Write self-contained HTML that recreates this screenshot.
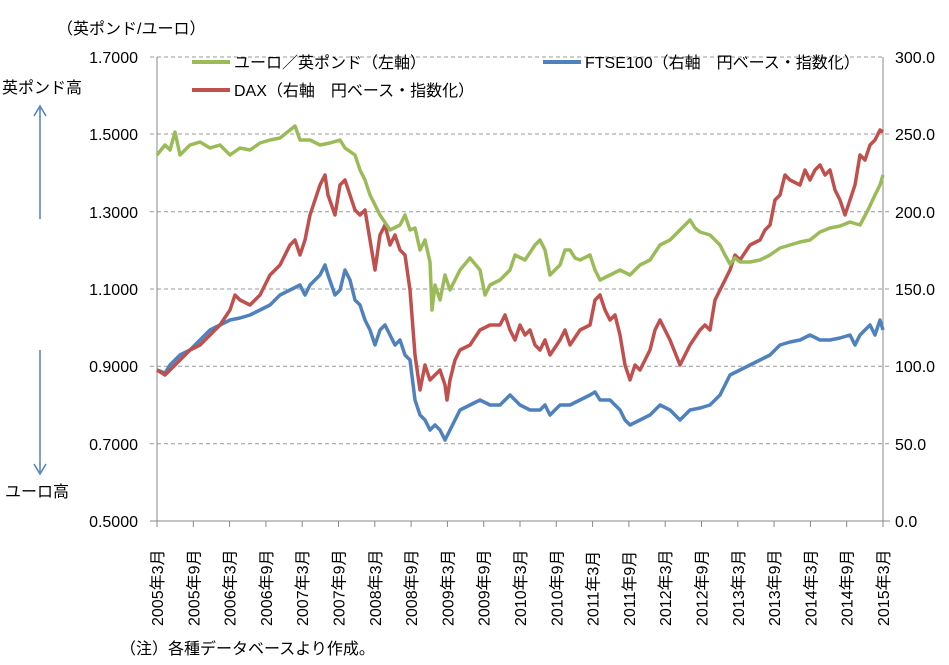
<!DOCTYPE html>
<html><head><meta charset="utf-8"><style>
body{margin:0;background:#fff;}
svg text{font-family:"Liberation Sans","Noto Sans CJK JP",sans-serif;font-size:16px;fill:#000;}
</style></head><body>
<svg width="949" height="660" viewBox="0 0 949 660" xmlns="http://www.w3.org/2000/svg">
<g stroke="#999" stroke-width="1" stroke-dasharray="4,3">
<line x1="150" y1="57" x2="883" y2="57"/><line x1="150" y1="134" x2="890" y2="134"/>
<line x1="150" y1="211.7" x2="890" y2="211.7"/><line x1="150" y1="289" x2="890" y2="289"/>
<line x1="150" y1="366.3" x2="890" y2="366.3"/><line x1="150" y1="443.7" x2="890" y2="443.7"/>
</g>
<g stroke="#888" stroke-width="1">
<line x1="157" y1="57" x2="157" y2="521"/><line x1="883" y1="57" x2="883" y2="521"/>
<line x1="150" y1="521" x2="890" y2="521"/>
</g>
<g id="ticks" stroke="#888"></g>
<g text-anchor="end">
<text x="138" y="63">1.7000</text><text x="138" y="140">1.5000</text><text x="138" y="218">1.3000</text>
<text x="138" y="295">1.1000</text><text x="138" y="372">0.9000</text><text x="138" y="450">0.7000</text><text x="138" y="527">0.5000</text>
</g>
<g>
<text x="895" y="63">300.0</text><text x="895" y="140">250.0</text><text x="895" y="218">200.0</text>
<text x="895" y="295">150.0</text><text x="895" y="372">100.0</text><text x="895" y="450">50.0</text><text x="895" y="527">0.0</text>
</g>
<g id="xl"></g>
<text x="57" y="34">（英ポンド/ユーロ）</text>
<text x="2" y="93">英ポンド高</text>
<text x="5" y="497">ユーロ高</text>
<text x="120" y="654">（注）各種データベースより作成。</text>
<g stroke="#4f81bd" stroke-width="1.5" fill="none">
<line x1="40" y1="108" x2="40" y2="219"/><polyline points="34,116 40,106 46,116"/>
<line x1="40" y1="350" x2="40" y2="472"/><polyline points="34,464 40,474 46,464"/>
</g>
<g fill="none" stroke-width="3.5" stroke-linejoin="round">
<polyline stroke="#4f81bd" points="157,370 165,373 170,365 180,355 190,350 200,340 210,330 220,325 230,320 240,318 250,315 260,310 270,305 280,295 290,290 300,285 305,295 310,285 320,275 325,265 328,275 335,295 340,290 345,270 350,280 355,300 360,305 365,320 370,330 375,345 380,330 385,325 390,335 395,345 400,340 405,355 410,360 415,400 420,415 425,420 430,430 435,425 440,430 445,440 450,430 455,420 460,410 470,405 480,400 490,405 500,405 505,400 510,395 515,400 520,405 530,410 540,410 545,405 550,415 560,405 570,405 580,400 590,395 595,392 600,400 610,400 615,405 620,410 625,420 630,425 640,420 650,415 655,410 660,405 670,410 680,420 690,410 700,408 710,405 715,400 720,395 725,385 730,375 740,370 750,365 760,360 770,355 780,345 790,342 800,340 810,335 820,340 830,340 840,338 850,335 855,345 860,335 865,330 870,325 875,335 880,320 883,330"/>
<polyline stroke="#c0504d" points="157,370 165,375 170,370 180,360 190,350 200,345 210,335 220,325 230,310 235,295 240,300 250,305 260,295 270,275 280,265 290,245 295,240 300,255 305,240 310,215 315,200 320,185 325,175 328,195 335,215 340,185 345,180 350,195 355,210 360,215 365,210 370,240 375,270 380,235 385,225 390,245 395,235 400,250 405,255 410,290 415,355 420,390 425,365 430,380 435,375 440,370 445,385 447,400 450,380 455,360 460,350 470,345 480,330 490,325 500,325 505,315 510,330 515,340 520,325 525,335 530,330 535,345 540,350 545,340 550,355 560,340 565,330 570,345 580,330 590,325 595,300 600,295 605,310 610,320 615,315 620,335 625,365 630,380 635,365 640,370 645,360 650,350 655,330 660,320 670,340 680,365 685,355 690,345 700,330 705,325 710,330 715,300 720,290 730,270 735,255 740,260 750,245 760,240 765,230 770,225 775,200 780,195 785,175 790,180 800,185 805,170 810,180 815,170 820,165 825,175 830,170 835,190 840,200 845,215 850,200 855,185 860,155 865,160 870,145 875,140 880,130 883,132"/>
<polyline stroke="#9bbb59" points="157,155 165,145 170,150 175,132 180,155 190,145 200,142 210,148 220,145 230,155 240,148 250,150 260,143 270,140 280,138 290,130 295,126 300,140 310,140 320,145 330,143 340,140 345,148 355,155 360,170 365,180 370,195 380,215 390,230 400,225 405,215 410,230 415,228 420,250 425,240 430,262 432,310 435,285 440,300 445,275 450,290 460,270 470,258 480,270 485,295 490,285 500,280 510,270 515,255 525,260 535,245 540,240 545,250 550,275 560,265 565,250 570,250 575,258 580,260 590,255 595,270 600,280 610,275 620,270 630,275 640,265 650,260 660,245 670,240 680,230 690,220 695,228 700,232 710,235 715,240 720,245 725,255 730,264 735,258 740,262 750,262 760,260 770,255 780,248 790,245 800,242 810,240 820,232 830,228 840,226 850,222 860,225 868,210 875,195 880,185 883,175"/>
</g>
<g stroke-width="4">
<line x1="192" y1="62" x2="230" y2="62" stroke="#9bbb59"/>
<line x1="192" y1="90" x2="230" y2="90" stroke="#c0504d"/>
<line x1="543" y1="62" x2="581" y2="62" stroke="#4f81bd"/>
</g>
<text x="234" y="68">ユーロ／英ポンド（左軸）</text>
<text x="234" y="96">DAX（右軸　円ベース・指数化）</text>
<text x="585" y="68">FTSE100（右軸　円ベース・指数化）</text>
</svg>
<script>
var labs=[];for(var y=2005;y<=2015;y++){labs.push(y+"年3月");if(y<2015)labs.push(y+"年9月");}
var t="",l="";for(var i=0;i<labs.length;i++){var x=157+i*36.3;t+='<line x1="'+x+'" y1="521" x2="'+x+'" y2="527"/>';
l+='<text transform="translate('+(x+6)+',626) rotate(-90)">'+labs[i]+'</text>';}
document.getElementById("ticks").innerHTML=t;document.getElementById("xl").innerHTML=l;
</script>
</body></html>
